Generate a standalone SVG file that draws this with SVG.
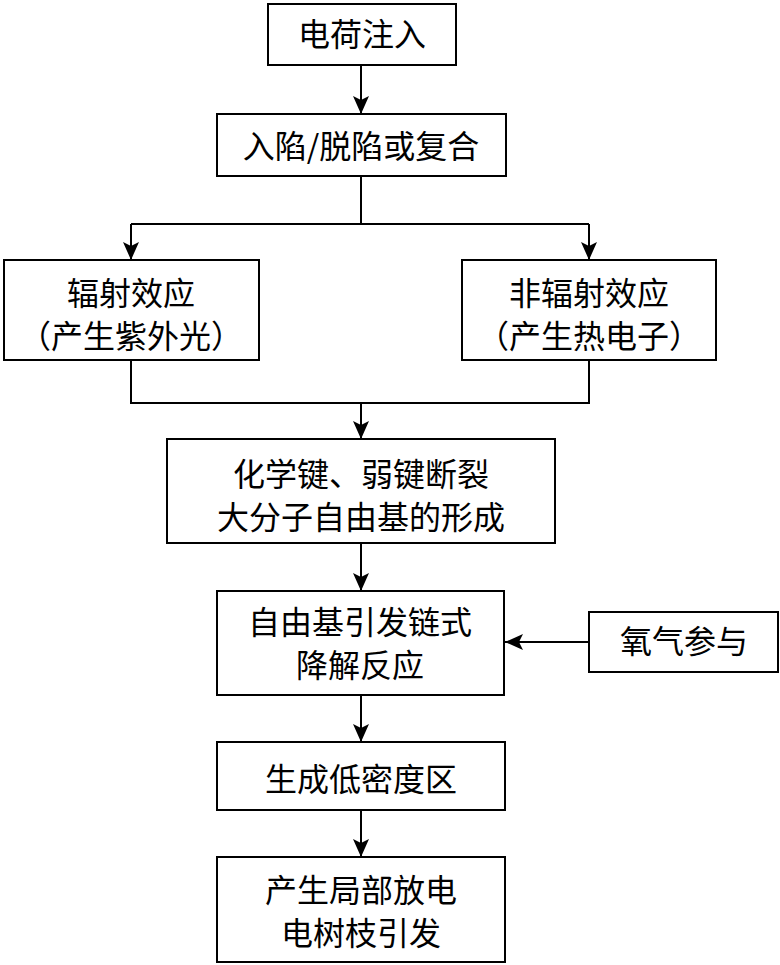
<svg xmlns="http://www.w3.org/2000/svg" width="780" height="965" viewBox="0 0 780 965">
<style>
.box{fill:#fff;stroke:#000;stroke-width:2}
.t{font-family:"Noto Sans CJK SC","Liberation Sans",sans-serif;font-size:32px;fill:#000;text-anchor:middle}
.ln{fill:none;stroke:#000;stroke-width:2}
</style>
<defs>
<marker id="ah" markerUnits="userSpaceOnUse" markerWidth="18" markerHeight="16" refX="18" refY="8" orient="auto">
<path d="M0,0 L18,8 L0,16 L4,8 z" fill="#000"/>
</marker>
</defs>
<rect width="780" height="965" fill="#fff"/>
<g id="connectors">
<line class="ln" x1="361" y1="65" x2="361" y2="114" marker-end="url(#ah)"/>
<polyline class="ln" points="361,176 361,224"/>
<polyline class="ln" points="131,224 589,224"/>
<line class="ln" x1="131" y1="224" x2="131" y2="260" marker-end="url(#ah)"/>
<line class="ln" x1="589" y1="224" x2="589" y2="260" marker-end="url(#ah)"/>
<polyline class="ln" points="131,360 131,403 589,403 589,360"/>
<line class="ln" x1="361" y1="403" x2="361" y2="439" marker-end="url(#ah)"/>
<line class="ln" x1="361" y1="543" x2="361" y2="591" marker-end="url(#ah)"/>
<line class="ln" x1="589" y1="642" x2="505" y2="642" marker-end="url(#ah)"/>
<line class="ln" x1="361" y1="695" x2="361" y2="742" marker-end="url(#ah)"/>
<line class="ln" x1="361" y1="810" x2="361" y2="857" marker-end="url(#ah)"/>
</g>
<g id="n1"><rect class="box" x="268" y="4" width="188" height="61"/><text class="t" x="362" y="46">电荷注入</text></g>
<g id="n2"><rect class="box" x="217" y="114" width="289" height="62"/><text class="t" x="361" y="158">入陷/脱陷或复合</text></g>
<g id="n3"><rect class="box" x="4" y="260" width="255" height="100"/><text class="t" x="131" y="305">辐射效应</text><text class="t" x="131" y="348">（产生紫外光）</text></g>
<g id="n4"><rect class="box" x="462" y="260" width="254" height="100"/><text class="t" x="589" y="305">非辐射效应</text><text class="t" x="589" y="348">（产生热电子）</text></g>
<g id="n5"><rect class="box" x="167" y="439" width="388" height="104"/><text class="t" x="361" y="486">化学键、弱键断裂</text><text class="t" x="361" y="529">大分子自由基的形成</text></g>
<g id="n6"><rect class="box" x="217" y="591" width="287" height="104"/><text class="t" x="360" y="634">自由基引发链式</text><text class="t" x="360" y="677">降解反应</text></g>
<g id="n7"><rect class="box" x="589" y="612" width="189" height="60"/><text class="t" x="684" y="653">氧气参与</text></g>
<g id="n8"><rect class="box" x="217" y="742" width="288" height="68"/><text class="t" x="361" y="791">生成低密度区</text></g>
<g id="n9"><rect class="box" x="217" y="857" width="288" height="105"/><text class="t" x="361" y="902">产生局部放电</text><text class="t" x="361" y="945">电树枝引发</text></g>
</svg>
